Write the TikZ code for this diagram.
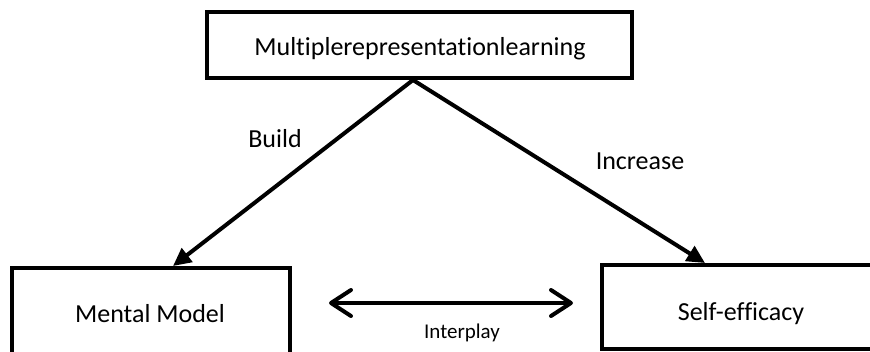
\documentclass[tikz,border=0pt]{standalone}
\usepackage{fontspec}
\setmainfont{Carlito}[Ligatures=NoCommon]
\usetikzlibrary{arrows.meta,calc}
\begin{document}
\begin{tikzpicture}[x=1pt,y=-1pt,
  box/.style={draw=black,line width=4pt,inner sep=0pt},
  txt/.style={anchor=base,inner sep=0pt,font=\fontsize{26}{30}\selectfont},
  small/.style={anchor=base,inner sep=0pt,font=\fontsize{21}{25}\selectfont},
  link/.style={line width=4pt,-{Triangle[length=18pt,width=17pt]}},
  both/.style={line width=4pt,line cap=round,
    {Straight Barb[length=20pt,width=26pt,round]}-{Straight Barb[length=20pt,width=26pt,round]}}]
\useasboundingbox (0,0) rectangle (870,351);
\clip (0,0) rectangle (870,351);

% frames
\node[box,minimum width=425pt,minimum height=66pt] (mrl) at (419.5,45) {};
\node[box,minimum width=278pt,minimum height=90pt] (mm) at (151,313) {};
\node[box,minimum width=278pt,minimum height=84pt] (se) at (741,307) {};

% texts
\node[txt] (mrlt) at (420,55) {Multiplerepresentationlearning};
\node[txt] (mmt) at (150,322) {Mental Model};
\node[txt] (set) at (741,320) {Self-efficacy};
\node[txt] (build) at (275,147) {Build};
\node[txt] (inc) at (640,169) {Increase};
\node[small] (ip) at (462,338) {Interplay};

% connectors
\coordinate (apex) at ($(mrl.south)+(-6.5,0)$);
\draw[link] (apex) -- ($(mm.north)+(22,0)$);
\draw[link] (apex) -- ($(se.north)+(-36,0)$);
\coordinate (il) at (329,303);
\coordinate (ir) at (573,303);
\draw[both] (il) -- (ir);
\end{tikzpicture}
\end{document}
